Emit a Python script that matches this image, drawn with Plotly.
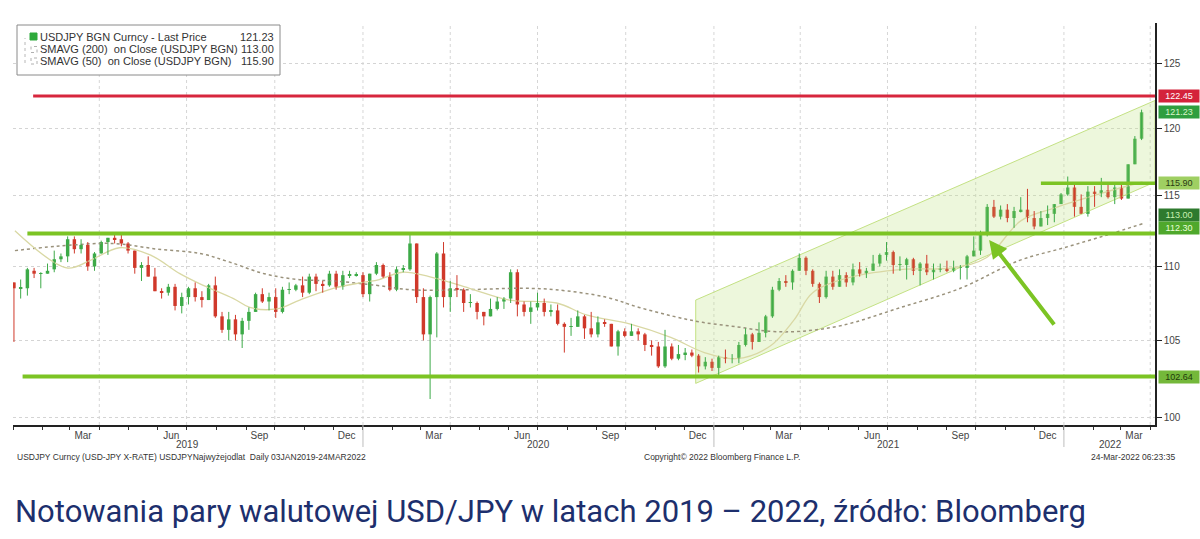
import numpy as np
import pandas as pd
import plotly.graph_objects as go

# ---------------- data (weekly OHLC) ----------------
week_start = pd.date_range("2018-12-31", "2022-03-21", freq="W-MON")

opens = [
 108.9,108.5,108.5,109.7,109.5,109.5,109.8,110.5,110.7,111.9,111.2,111.5,110.0,110.9,111.7,112.0,111.9,111.6,111.1,109.9,110.1,109.3,108.3,108.2,108.6,107.3,107.9,108.5,107.9,107.7,108.7,106.6,105.7,106.4,105.4,106.3,106.9,108.1,107.6,107.9,106.9,108.4,108.4,108.7,108.2,109.3,108.8,108.7,109.5,108.6,109.4,109.4,109.4,
 108.1,109.5,110.1,109.3,108.4,109.8,109.8,111.6,107.9,105.4,107.9,110.9,107.9,108.5,108.4,107.5,107.5,106.9,106.6,107.1,107.6,107.8,109.6,107.4,106.9,107.2,107.5,106.9,107.0,106.1,105.9,105.9,106.6,105.8,105.4,106.2,106.1,104.6,105.6,105.3,105.6,105.4,104.7,104.6,103.3,104.6,103.8,104.1,104.2,104.0,103.3,103.6,
 103.2,103.9,103.8,103.8,104.7,105.4,104.9,105.5,106.6,108.4,109.0,108.9,109.7,110.6,109.7,108.8,107.9,109.3,108.6,109.4,108.9,109.8,109.5,109.7,110.2,110.8,111.0,110.1,110.1,110.5,109.7,110.2,109.6,109.8,109.8,109.7,109.9,109.9,110.7,111.1,112.2,114.2,113.5,114.0,113.4,113.9,114.0,113.4,112.8,113.4,113.7,114.4,
 115.1,115.6,114.2,113.7,115.3,115.2,115.4,114.9,115.6,114.8,117.3,119.2]
highs = [
 108.9,109.1,109.9,109.9,109.6,110.2,111.1,110.9,112.1,112.1,111.9,111.7,111.0,111.8,112.0,112.2,112.4,111.7,111.1,110.3,110.7,109.9,108.5,108.8,108.8,108.2,108.6,108.9,108.3,108.8,109.3,106.9,106.9,106.7,106.5,107.2,108.2,108.5,108.2,108.5,108.6,108.9,108.8,109.3,109.5,109.5,109.0,109.7,109.7,109.7,109.7,109.6,109.6,
 109.5,110.3,110.2,109.6,110.0,110.1,112.2,111.6,108.5,108.0,111.0,111.7,109.0,109.4,108.5,108.1,107.6,106.9,107.8,107.9,107.9,109.8,109.8,107.6,107.6,108.2,107.8,107.4,107.4,106.2,106.5,107.0,106.7,106.9,106.6,106.4,106.1,105.7,105.8,106.1,105.8,105.5,105.0,104.9,105.7,104.8,104.7,104.5,104.4,104.1,103.9,103.8,
 104.0,104.4,104.1,104.9,105.8,105.5,106.2,106.7,108.6,109.2,109.4,109.8,110.9,110.7,109.8,108.9,109.7,109.7,109.8,109.6,110.2,110.3,109.9,110.8,110.9,111.7,111.1,110.7,110.6,110.6,110.3,110.8,110.2,110.2,110.4,110.4,110.1,110.8,112.1,112.5,114.4,114.7,114.3,114.4,114.2,114.9,115.5,113.9,113.9,114.3,114.4,115.2,
 116.4,115.8,115.1,115.7,115.7,116.3,115.8,115.8,115.8,117.3,119.4,121.4]
lows = [
 104.9,107.8,108.0,109.2,108.5,109.5,109.6,110.3,110.3,110.9,110.9,109.7,109.7,110.9,110.8,111.6,111.4,110.9,109.5,109.0,109.3,108.3,107.8,108.0,107.0,106.8,107.4,107.6,107.2,107.7,106.5,105.5,105.0,105.0,104.5,105.7,106.9,107.5,107.0,106.5,106.8,108.1,108.3,107.9,108.1,108.3,108.2,108.6,108.4,108.4,109.2,109.3,107.9,
 107.6,109.4,109.2,108.3,108.3,109.6,109.7,107.5,105.0,101.2,105.2,107.2,106.9,107.9,106.9,107.2,106.4,106.0,106.6,107.0,107.1,107.5,106.6,106.6,106.1,107.0,106.6,106.6,106.0,104.2,105.3,105.9,105.1,105.2,105.2,105.9,104.6,104.0,105.2,105.3,105.0,104.3,104.0,103.2,103.2,103.7,103.7,103.7,103.9,102.9,103.1,103.0,
 102.6,103.5,103.5,103.5,104.6,104.4,104.9,105.2,106.5,108.3,108.6,108.4,109.7,109.4,108.6,107.5,107.8,108.4,108.6,108.6,108.7,109.3,109.2,109.7,110.0,110.4,109.5,109.7,109.1,109.4,108.7,109.4,109.1,109.6,109.6,109.6,109.1,109.1,110.7,110.8,112.1,113.4,113.3,113.1,112.7,113.8,113.1,112.6,112.8,112.9,113.1,114.4,
 115.0,113.5,113.7,113.5,114.2,114.9,114.8,114.4,114.7,114.8,117.3,119.1]
closes = [
 108.5,108.5,109.8,109.5,109.5,109.7,110.5,110.7,111.9,111.2,111.5,110.0,110.9,111.7,112.0,111.9,111.6,111.1,109.9,110.1,109.3,108.3,108.2,108.6,107.3,107.9,108.5,107.9,107.7,108.7,106.6,105.7,106.4,105.4,106.3,106.9,108.1,107.6,107.9,106.9,108.4,108.4,108.7,108.2,109.3,108.8,108.7,109.5,108.6,109.4,109.4,109.4,108.1,
 109.5,110.1,109.3,108.4,109.8,109.8,111.6,107.9,105.4,107.9,110.9,107.9,108.5,108.4,107.5,107.5,106.9,106.6,107.1,107.6,107.8,109.6,107.4,106.9,107.2,107.5,106.9,107.0,106.1,105.9,105.9,106.6,105.8,105.4,106.2,106.1,104.6,105.6,105.3,105.6,105.4,104.7,104.6,103.3,104.6,103.8,104.1,104.2,104.0,103.3,103.6,103.2,
 103.9,103.8,103.8,104.7,105.4,104.9,105.5,106.6,108.4,109.0,108.9,109.7,110.6,109.7,108.8,107.9,109.3,108.6,109.4,108.9,109.8,109.5,109.7,110.2,110.8,111.0,110.1,110.1,110.5,109.7,110.2,109.6,109.8,109.8,109.7,109.9,109.9,110.7,111.1,112.2,114.2,113.5,114.0,113.4,113.9,114.0,113.4,112.8,113.4,113.7,114.4,115.1,
 115.6,114.2,113.7,115.3,115.2,115.4,114.9,115.6,114.8,117.3,119.2,121.2]

sma200_dates = ["2019-01-03","2019-02-15","2019-04-15","2019-06-01","2019-07-15","2019-08-15","2019-09-20",
                "2019-10-25","2019-12-01","2020-01-15","2020-02-20","2020-04-15","2020-06-15","2020-07-20",
                "2020-09-10","2020-10-15","2020-11-20","2020-12-20","2021-01-25","2021-03-01","2021-04-01",
                "2021-05-15","2021-07-15","2021-09-15","2021-11-15","2022-01-01","2022-02-15","2022-03-24"]
sma200 = [111.1,111.4,111.6,111.2,110.9,110.3,109.5,109.1,109.0,108.7,108.4,108.4,108.5,108.4,
          107.9,107.2,106.6,106.2,105.9,105.6,105.6,106.0,107.2,108.5,110.4,111.3,112.2,113.0]

sma50_dates = ["2019-01-03","2019-02-26","2019-03-22","2019-04-22","2019-05-24","2019-06-24","2019-07-15",
               "2019-08-19","2019-09-05","2019-10-03","2019-10-27","2019-12-01","2020-01-01","2020-01-18",
               "2020-02-11","2020-03-10","2020-04-21","2020-06-02","2020-07-21","2020-08-21","2020-10-05",
               "2020-11-17","2020-12-22","2021-01-24","2021-02-28","2021-03-26","2021-04-14","2021-05-26",
               "2021-07-17","2021-09-07","2021-10-12","2021-11-17","2021-12-21","2022-02-10","2022-03-24"]
sma50 = [112.5,109.9,110.4,111.3,110.8,109.5,108.8,107.8,107.2,107.1,107.7,108.5,108.9,109.1,
         109.6,109.3,108.5,107.7,107.5,106.7,106.1,105.2,104.2,103.8,104.6,106.4,108.2,109.3,
         109.8,109.9,110.6,113.2,114.1,115.2,116.0]

channel_dates = ["2020-12-13", "2022-04-06"]
channel_upper = [107.7, 122.1]
channel_lower = [102.2, 116.0]

levels = {  # value: (start date, colour, width)
    122.45: ("2019-01-22", "#d7263d", 3),
    112.30: ("2019-01-16", "#7cc424", 4),
    102.64: ("2019-01-11", "#7cc424", 4),
    115.90: ("2021-12-08", "#7cc424", 3.5),
}
x_end = "2022-04-06"
x_start = "2019-01-01"

tags = [  # value, text, bg, fg, yshift(px)
    (122.45, "122.45", "#d4233b", "#ffffff", 0),
    (121.23, "121.23", "#2f9e3f", "#d9f5c9", 0),
    (115.90, "115.90", "#9fcf62", "#2a3a12", 0),
    (113.00, "113.00", "#2e7a2e", "#c8f0b0", 9),
    (112.30, "112.30", "#4fa82c", "#eaffd8", 6),
    (102.64, "102.64", "#74b83a", "#1f3a0a", 0),
]

legend_rows = [("USDJPY BGN Curncy - Last Price", "121.23"),
               ("SMAVG (200)\u00a0 on Close (USDJPY BGN)", "113.00"),
               ("SMAVG (50)\u00a0 on Close (USDJPY BGN)", "115.90")]

y_ticks = [100, 105, 110, 115, 120, 125]
years = ["2019", "2020", "2021", "2022"]
year_label_dates = ["2019-07-02", "2020-07-02", "2021-07-02", "2022-02-19"]

UP, DOWN = "#3daa48", "#d0392b"

# ---------------- layout helpers ----------------
L, T, W, H = 13, 23, 1142, 402
def px(xp):
    return (xp - L) / W
def py(yp):
    return (T + H - yp) / H

candle_x = week_start + pd.Timedelta(days=2)
month_ticks = pd.date_range("2019-03-01", "2022-03-01", freq="3MS") + pd.Timedelta(days=14)
month_text = [d.strftime("%b") for d in month_ticks]
quarter_starts = pd.date_range("2019-04-01", "2022-04-01", freq="QS")

fig = go.Figure()

# channel fill
fig.add_trace(go.Scatter(
    x=[channel_dates[0], channel_dates[1], channel_dates[1], channel_dates[0], channel_dates[0]],
    y=[channel_lower[0], channel_lower[1], channel_upper[1], channel_upper[0], channel_lower[0]],
    fill="toself", fillcolor="rgba(196,228,140,0.30)", mode="lines",
    line=dict(color="rgba(190,222,120,0.9)", width=1), hoverinfo="skip", showlegend=False))

# moving averages
fig.add_trace(go.Scatter(x=sma200_dates, y=sma200, mode="lines", line_shape="spline",
                         line=dict(color="#9a927c", width=1.5, dash="dot"), showlegend=False))
fig.add_trace(go.Scatter(x=sma50_dates, y=sma50, mode="lines", line_shape="spline",
                         line=dict(color="#d9d8a4", width=1.3), showlegend=False))

# candles: wicks (scatter) + bodies (bars)
is_up = [c >= o for o, c in zip(opens, closes)]
for flag, col in ((True, UP), (False, DOWN)):
    wx, wy = [], []
    for xd, hi, lo, u in zip(candle_x, highs, lows, is_up):
        if u == flag:
            wx += [xd, xd, None]
            wy += [lo, hi, None]
    fig.add_trace(go.Scatter(x=wx, y=wy, mode="lines", line=dict(color=col, width=1),
                             hoverinfo="skip", showlegend=False))
fig.add_trace(go.Bar(
    x=candle_x,
    base=[min(o, c) for o, c in zip(opens, closes)],
    y=[max(abs(c - o), 0.04) for o, c in zip(opens, closes)],
    width=3.6 * 86400000,
    marker=dict(color=[UP if u else DOWN for u in is_up], line=dict(width=0)),
    showlegend=False, hoverinfo="skip"))

# horizontal levels
for val, (d0, col, wdt) in levels.items():
    fig.add_trace(go.Scatter(x=[d0, x_end], y=[val, val], mode="lines",
                             line=dict(color=col, width=wdt), hoverinfo="skip",
                             showlegend=False, cliponaxis=False))

shapes = []
for q in quarter_starts:
    shapes.append(dict(type="line", xref="x", yref="paper", x0=q, x1=q, y0=0, y1=1,
                       line=dict(color="#d6d6d6", width=1, dash="dot"), layer="below"))
for d in ["2020-01-01", "2021-01-01", "2022-01-01"]:
    shapes.append(dict(type="line", xref="x", yref="paper", x0=d, x1=d, y0=0, y1=py(447),
                       line=dict(color="#bdbdbd", width=1)))
shapes.append(dict(type="rect", xref="paper", yref="paper", x0=px(17), x1=px(280), y0=py(75), y1=py(25),
                   line=dict(color="#8a8a8a", width=1), fillcolor="white"))
shapes.append(dict(type="rect", xref="paper", yref="paper", x0=px(30), x1=px(37), y0=py(40), y1=py(33),
                   line=dict(color="#2faa3c", width=1), fillcolor="#2faa3c"))
for yy in (49.5, 61):
    shapes.append(dict(type="rect", xref="paper", yref="paper", x0=px(31), x1=px(37), y0=py(yy + 3), y1=py(yy - 3),
                       line=dict(color="#b0b0b0", width=1, dash="dot"), fillcolor="white"))
shapes.append(dict(type="line", xref="paper", yref="paper", x0=px(25), x1=px(25), y0=py(63), y1=py(38),
                   line=dict(color="#b8b8b8", width=1, dash="dot")))

annotations = []
for i, (lbl, val) in enumerate(legend_rows):
    yy = [37, 49.5, 61][i]
    annotations.append(dict(xref="paper", yref="paper", x=px(38), y=py(yy), text=lbl, showarrow=False,
                            xanchor="left", yanchor="middle",
                            font=dict(family="Liberation Sans", size=11, color="#333333")))
    annotations.append(dict(xref="paper", yref="paper", x=px(276), y=py(yy), text=val, showarrow=False,
                            xanchor="right", yanchor="middle",
                            font=dict(family="Liberation Sans", size=11, color="#333333")))

for val, txt, bg, fg, ys in tags:
    annotations.append(dict(xref="paper", yref="y", x=1, y=np.log10(val), text=txt, showarrow=False,
                            xanchor="left", yanchor="middle", xshift=3, yshift=ys,
                            bgcolor=bg, borderpad=1, width=38,
                            font=dict(family="Liberation Sans", size=9, color=fg)))

for yr, d in zip(years, year_label_dates):
    annotations.append(dict(xref="x", yref="paper", x=d, y=py(444), text=yr, showarrow=False,
                            yanchor="middle", font=dict(family="Liberation Sans", size=10, color="#444444")))

annotations.append(dict(x="2021-10-15", y=np.log10(111.84), ax="2021-12-23", ay=np.log10(105.95),
                        xref="x", yref="y", axref="x", ayref="y", text="", showarrow=True,
                        arrowhead=2, arrowsize=0.9, arrowwidth=4, arrowcolor="#7cc424"))

foot = dict(family="Liberation Sans", size=8.5, color="#333333")
annotations.append(dict(xref="paper", yref="paper", x=px(15), y=py(457), xanchor="left", yanchor="middle",
                        text="USDJPY Curncy (USD-JPY X-RATE) USDJPYNajwyżejodlat\u00a0 Daily 03JAN2019-24MAR2022",
                        showarrow=False, font=foot))
annotations.append(dict(xref="paper", yref="paper", x=px(722), y=py(457), xanchor="center", yanchor="middle",
                        text="Copyright© 2022 Bloomberg Finance L.P.", showarrow=False, font=foot))
annotations.append(dict(xref="paper", yref="paper", x=px(1177), y=py(457), xanchor="right", yanchor="middle",
                        text="24-Mar-2022 06:23:35", showarrow=False, font=foot))

annotations.append(dict(xref="paper", yref="paper", x=px(13), y=py(511), xanchor="left", yanchor="middle",
                        text="Notowania pary walutowej USD/JPY w latach 2019 – 2022, źródło: Bloomberg",
                        showarrow=False, font=dict(family="Roboto", size=31, color="#1d2f6d")))

fig.update_layout(
    width=1200, height=539, margin=dict(l=L, r=1200 - L - W, t=T, b=539 - T - H),
    paper_bgcolor="white", plot_bgcolor="white", showlegend=False, barmode="overlay",
    shapes=shapes, annotations=annotations,
    xaxis=dict(type="date", range=[x_start, x_end],
               tickvals=list(month_ticks), ticktext=month_text, ticks="", showgrid=False,
               showline=True, linecolor="#222222", linewidth=1.5, zeroline=False,
               tickfont=dict(family="Liberation Sans", size=10, color="#444444"),
               minor=dict(dtick="M1", tick0="2019-01-01", ticks="outside", ticklen=3,
                          tickcolor="#333333", showgrid=False)),
    yaxis=dict(type="log", range=[np.log10(99.56), np.log10(128.2)], side="right",
               tickvals=y_ticks, ticktext=[str(v) for v in y_ticks],
               ticks="outside", ticklen=5, tickcolor="#222222",
               showline=True, linecolor="#222222", linewidth=1.5, zeroline=False,
               showgrid=True, gridcolor="#d4d4d4", griddash="dot",
               tickfont=dict(family="Liberation Sans", size=10, color="#444444")),
)

fig.write_html("out.html")
